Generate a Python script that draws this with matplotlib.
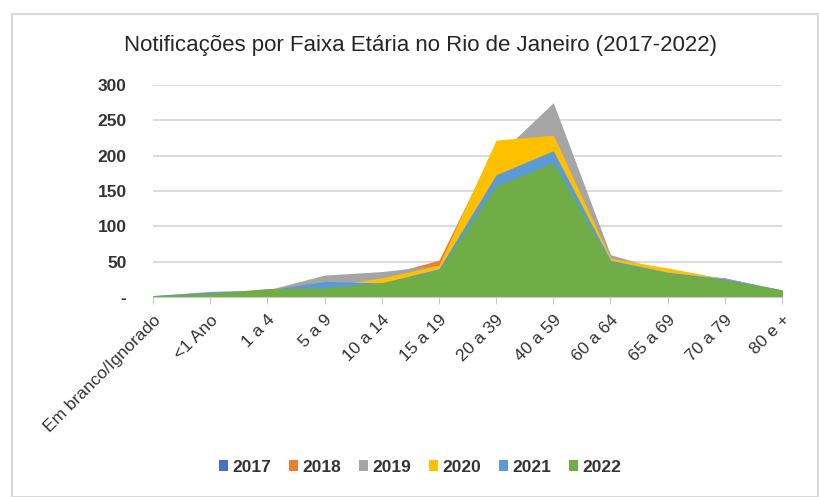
import matplotlib
matplotlib.use("Agg")
import matplotlib.pyplot as plt
from matplotlib.patches import Patch, Rectangle
import numpy as np

categories = ['Em branco/Ignorado', '<1 Ano', '1 a 4', '5 a 9', '10 a 14', '15 a 19',
              '20 a 39', '40 a 59', '60 a 64', '65 a 69', '70 a 79', '80 e +']
years = ['2017', '2018', '2019', '2020', '2021', '2022']
v2017 = [1, 5, 8, 18, 25, 40, 180, 200, 50, 33, 27, 9]
v2018 = [1, 6, 9, 20, 30, 52, 216, 220, 55, 35, 25, 9]
v2019 = [2, 8, 10, 31, 36, 45, 198, 275, 60, 36, 27, 10]
v2020 = [1, 6, 10, 15, 27, 45, 222, 229, 55, 41, 26, 10]
v2021 = [2, 7, 10, 22, 20, 40, 173, 207, 52, 35, 26, 10]
v2022 = [2, 5, 12, 13, 20, 38, 157, 190, 50, 34, 24, 10]
series = [v2017, v2018, v2019, v2020, v2021, v2022]
colors = ['#4472C4', '#ED7D31', '#A5A5A5', '#FFC000', '#5B9BD5', '#70AD47']

plt.rcParams['font.family'] = ['Liberation Sans', 'DejaVu Sans']
txt = '#333333'

fig = plt.figure(figsize=(8.19, 4.97), dpi=100)
fig.patches.append(Rectangle((12 / 819, 0.0), 806 / 819, 1 - 14 / 497, transform=fig.transFigure,
                             fill=False, edgecolor='#d9d9d9', linewidth=1.5))

ax = fig.add_axes([153 / 819, 1 - 297 / 497, (782 - 153) / 819, (297 - 85) / 497])
x = np.arange(len(categories))
for vals, c in zip(series, colors):
    ax.fill_between(x, 0, vals, color=c, linewidth=0, zorder=2)

ax.set_xlim(0, len(categories) - 1)
ax.set_ylim(0, 300)
ax.set_yticks(range(0, 301, 50))
ax.set_yticklabels(['-' if t == 0 else str(t) for t in range(0, 301, 50)],
                   fontsize=12.5, color=txt, fontweight='bold')
ax.grid(axis='y', color='#d9d9d9', linewidth=1.3, zorder=0)
ax.set_axisbelow(True)
ax.tick_params(axis='y', length=0, pad=19)

ax.set_xticks(x)
ax.set_xticklabels(categories, rotation=45, ha='right', rotation_mode='anchor',
                   fontsize=12.5, color=txt)
ax.tick_params(axis='x', length=5, color='#c8c8c8', pad=6)

for s in ['top', 'right', 'left']:
    ax.spines[s].set_visible(False)
ax.spines['bottom'].set_color('#c8c8c8')
ax.spines['bottom'].set_zorder(3)

fig.text(0.513, 1 - 45 / 497, 'Notificações por Faixa Etária no Rio de Janeiro (2017-2022)',
         ha='center', va='center', fontsize=16, color='#262626')

handles = [Patch(facecolor=c, edgecolor='none', label=y) for c, y in zip(colors, years)]
fig.legend(handles=handles, loc='center', bbox_to_anchor=(0.513, 1 - 467 / 497), ncol=6,
           frameon=False, handlelength=0.55, handleheight=0.55,
           handletextpad=0.25, columnspacing=1.0, labelcolor=txt,
           prop={'weight': 'bold', 'size': 12.5})

fig.savefig('out.png', dpi=100)
